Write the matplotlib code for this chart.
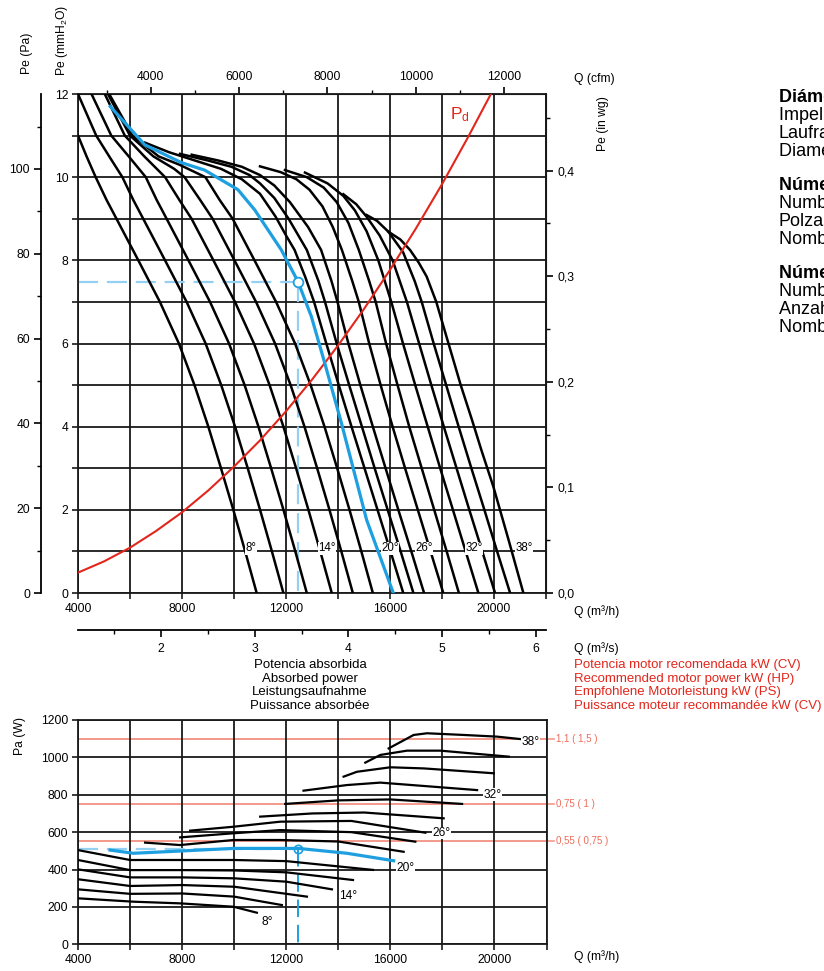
import matplotlib
matplotlib.use('Agg')
import matplotlib.pyplot as plt
from matplotlib.ticker import FixedLocator, FuncFormatter

plt.rcParams['font.family'] = ['Liberation Sans', 'DejaVu Sans']
plt.rcParams['mathtext.fontset'] = 'custom'
plt.rcParams['mathtext.rm'] = 'Liberation Sans'
plt.rcParams['mathtext.it'] = 'Liberation Sans'

# ---------------- data ----------------
angles = [8, 10, 12, 14, 16, 18, 20, 22, 24, 26, 28, 30, 32, 34, 36, 38]
highlight_angle = 20

# static pressure curves: Q (m3/h) and Pe (mmH2O)
pe_q = {
    8:  [4000, 4330, 4680, 5100, 5480, 6320, 7150, 7880, 8480, 9013, 9500, 9974, 10430, 10872],
    10: [4000, 4700, 5200, 5708, 6128, 6508, 7348, 8178, 8908, 9508, 10041, 10528, 11002, 11458, 11900],
    12: [4520, 5280, 5950, 6608, 7028, 7408, 8248, 9078, 9808, 10408, 10941, 11428, 11902, 12358, 12800],
    14: [5030, 5800, 6550, 7350, 7900, 8368, 9208, 10038, 10768, 11368, 11901, 12388, 12862, 13318, 13760],
    16: [5150, 6000, 6900, 7700, 8100, 8700, 9178, 10018, 10848, 11578, 12178, 12711, 13198, 13672, 14128, 14570],
    18: [5200, 6100, 7100, 7900, 8900, 9450, 9948, 10788, 11618, 12348, 12948, 13481, 13968, 14442, 14898, 15340],
    20: [5240, 6565, 7975, 8870, 10150, 10800, 11820, 12460, 12975, 13490, 14130, 15100, 16127],
    22: [6577, 7500, 8500, 9500, 10300, 11000, 11600, 12000, 12330, 12740, 13080, 13550, 14030, 14520, 15020, 15520, 16020, 16510],
    24: [7923, 9000, 9900, 10600, 11000, 11550, 12100, 12800, 13250, 13500, 13950, 14430, 14920, 15410, 15910, 16410, 16900],
    26: [8372, 9400, 10300, 11000, 11550, 12150, 12850, 13350, 13750, 13980, 14400, 14860, 15340, 15830, 16320, 16820, 17310],
    28: [11000, 11800, 12400, 12900, 13400, 13800, 14150, 14550, 14800, 15200, 15640, 16100, 16580, 17070, 17560, 18050],
    30: [11960, 12800, 13450, 13950, 14400, 14800, 15200, 15450, 15850, 16290, 16740, 17220, 17700, 18180, 18650],
    32: [12730, 13600, 14205, 14650, 15100, 15550, 16050, 16500, 16970, 17450, 17930, 18420, 18910, 19400],
    34: [14205, 14700, 15100, 15600, 16100, 16650, 17120, 17590, 18070, 18560, 19050, 19550, 20040],
    36: [15100, 15500, 15935, 16500, 16950, 17220, 17680, 18160, 18640, 19130, 19630, 20120, 20620],
    38: [15935, 16400, 16770, 17100, 17410, 17780, 18250, 18720, 19150, 19513, 19974, 20550, 21130],
}
pe_p = {
    8:  [11.0, 10.5, 10.0, 9.45, 9.0, 8.0, 7.0, 6.0, 5.0, 4.0, 3.0, 2.0, 1.0, 0.0],
    10: [12.0, 11.0, 10.5, 10.0, 9.45, 9.0, 8.0, 7.0, 6.0, 5.0, 4.0, 3.0, 2.0, 1.0, 0.0],
    12: [12.0, 11.0, 10.5, 10.0, 9.45, 9.0, 8.0, 7.0, 6.0, 5.0, 4.0, 3.0, 2.0, 1.0, 0.0],
    14: [12.0, 11.0, 10.5, 10.0, 9.45, 9.0, 8.0, 7.0, 6.0, 5.0, 4.0, 3.0, 2.0, 1.0, 0.0],
    16: [12.0, 11.0, 10.5, 10.2, 10.0, 9.45, 9.0, 8.0, 7.0, 6.0, 5.0, 4.0, 3.0, 2.0, 1.0, 0.0],
    18: [12.0, 11.0, 10.5, 10.3, 10.0, 9.45, 9.0, 8.0, 7.0, 6.0, 5.0, 4.0, 3.0, 2.0, 1.0, 0.0],
    20: [11.7, 10.78, 10.35, 10.17, 9.7, 9.21, 8.25, 7.49, 6.65, 5.53, 4.09, 1.76, 0.0],
    22: [10.83, 10.6, 10.4, 10.2, 9.95, 9.6, 9.05, 8.6, 8.25, 7.6, 7.0, 6.0, 5.0, 4.0, 3.0, 2.0, 1.0, 0.0],
    24: [10.56, 10.4, 10.25, 10.05, 9.85, 9.5, 9.0, 8.25, 7.5, 7.0, 6.0, 5.0, 4.0, 3.0, 2.0, 1.0, 0.0],
    26: [10.54, 10.4, 10.25, 10.05, 9.8, 9.4, 8.8, 8.25, 7.5, 7.0, 6.0, 5.0, 4.0, 3.0, 2.0, 1.0, 0.0],
    28: [10.26, 10.12, 9.95, 9.7, 9.3, 8.8, 8.25, 7.5, 7.0, 6.0, 5.0, 4.0, 3.0, 2.0, 1.0, 0.0],
    30: [10.17, 10.0, 9.75, 9.4, 8.9, 8.25, 7.5, 7.0, 6.0, 5.0, 4.0, 3.0, 2.0, 1.0, 0.0],
    32: [10.11, 9.85, 9.55, 9.2, 8.7, 8.0, 7.0, 6.0, 5.0, 4.0, 3.0, 2.0, 1.0, 0.0],
    34: [9.59, 9.35, 9.05, 8.6, 8.0, 7.0, 6.0, 5.0, 4.0, 3.0, 2.0, 1.0, 0.0],
    36: [9.09, 8.95, 8.69, 8.2, 7.5, 7.0, 6.0, 5.0, 4.0, 3.0, 2.0, 1.0, 0.0],
    38: [8.69, 8.5, 8.25, 7.95, 7.61, 7.0, 6.0, 5.0, 4.17, 3.44, 2.56, 1.3, 0.0],
}

# dynamic pressure Pd
pd_q = [4000, 5000, 6000, 7000, 8000, 9000, 10000, 11000, 12000, 13000,
        14000, 15000, 16000, 17000, 18000, 19000, 19880]
pd_p = [0.49, 0.76, 1.09, 1.49, 1.94, 2.46, 3.04, 3.67, 4.37, 5.13,
        5.95, 6.83, 7.77, 8.77, 9.83, 10.96, 12.0]

# absorbed power curves: Q (m3/h) and Pa (W)
pa_q = {
    8:  [4000, 6128, 7923, 9974, 10872],
    10: [4000, 6000, 8000, 10000, 11833],
    12: [4000, 6000, 8000, 10000, 12796],
    14: [4000, 6000, 8000, 10000, 12000, 13756],
    16: [4000, 6000, 8000, 10000, 12000, 14565],
    18: [4000, 6000, 8000, 10000, 12000, 15335],
    20: [5230, 6128, 7923, 9974, 12474, 14333, 16128],
    22: [6577, 7923, 9974, 11769, 14000, 16512],
    24: [7923, 9974, 11769, 14500, 16960],
    26: [8308, 9974, 11769, 14500, 17346],
    28: [11000, 13000, 15000, 18050],
    30: [11962, 14000, 16000, 18757],
    32: [12665, 14333, 15615, 19333],
    34: [14205, 14718, 16000, 17282, 19974],
    36: [15038, 15615, 16640, 17923, 20551],
    38: [15935, 16897, 17410, 18820, 20100, 21064],
}
pa_w = {
    8:  [246, 228, 219, 201, 169],
    10: [294, 270, 272, 255, 210],
    12: [348, 312, 317, 308, 255],
    14: [401, 358, 358, 353, 335, 294],
    16: [451, 397, 397, 395, 385, 344],
    18: [504, 451, 451, 451, 445, 398],
    20: [504, 487, 499, 513, 513, 487, 447],
    22: [544, 531, 558, 558, 550, 495],
    24: [572, 594, 611, 600, 549],
    26: [608, 629, 656, 660, 597],
    28: [683, 700, 705, 674],
    30: [751, 770, 775, 751],
    32: [822, 852, 865, 825],
    34: [897, 923, 947, 941, 915],
    36: [972, 1013, 1036, 1036, 1004],
    38: [1048, 1120, 1129, 1120, 1111, 1097],
}

# operating point
op_q = 12470
op_pe = 7.48
op_pa = 512

# recommended motor power lines
motor_w = [1100, 750, 550]
motor_labels = ['1,1 ( 1,5 )', '0,75 ( 1 )', '0,55 ( 0,75 )']

# angle tag positions (Q, value)
pe_tag_pos = {8: (10650, 1.08), 14: (13580, 1.08), 20: (16000, 1.08),
              26: (17310, 1.08), 32: (19230, 1.08), 38: (21150, 1.08)}
pa_tag_pos = {8: (11270, 119), 14: (14385, 259), 20: (16577, 409),
              26: (17962, 596), 32: (19923, 800), 38: (21385, 1083)}

text_right_pa = ['Potencia motor recomendada kW (CV)', 'Recommended motor power kW (HP)',
                 'Empfohlene Motorleistung kW (PS)', 'Puissance moteur recommandée kW (CV)']
text_center_pa = ['Potencia absorbida', 'Absorbed power', 'Leistungsaufnahme',
                  'Puissance absorbée']
info_blocks = [
    ['Diámetro turbina', 'Impeller diameter', 'Laufraddurchmesser', 'Diamètre turbine'],
    ['Número de polos', 'Number of poles', 'Polzahl', 'Nombre de pôles'],
    ['Número de álabes', 'Number of blades', 'Anzahl der Schaufeln', 'Nombre de pales'],
]

# ---------------- styling ----------------
W, H = 824, 971
fig = plt.figure(figsize=(W / 100, H / 100), dpi=100)
BLUE = '#1e9fe0'
LBLUE = '#93d0f2'
RED = '#e2261c'
SALMON = '#f39a8a'
GRID = '#1a1a1a'
FS = 8.7


def px_rect(l, t, r, b):
    return [l / W, 1 - b / H, (r - l) / W, (b - t) / H]


def comma(v, pos=None):
    return ('%.1f' % v).replace('.', ',')


# ---------------- main (pressure) chart ----------------
ax = fig.add_axes(px_rect(78, 94, 546, 593))
ax.set_xlim(4000, 22000)
ax.set_ylim(0, 12)
ax.xaxis.set_major_locator(FixedLocator(list(range(4000, 22001, 2000))))
ax.xaxis.set_major_formatter(FuncFormatter(lambda v, p: '%d' % v if (v % 4000 == 0 and v <= 20000) else ''))
ax.yaxis.set_major_locator(FixedLocator(list(range(0, 13))))
ax.yaxis.set_major_formatter(FuncFormatter(lambda v, p: '%d' % v if v % 2 == 0 else ''))
ax.tick_params(direction='out', length=4, width=1.2, labelsize=FS, pad=3, color=GRID)
ax.grid(True, color=GRID, lw=1.3, zorder=0)
for s in ax.spines.values():
    s.set_color(GRID)
    s.set_linewidth(1.3)

for a in angles:
    hl = a == highlight_angle
    ax.plot(pe_q[a], pe_p[a], color=BLUE if hl else 'black', lw=2.3 if hl else 1.8,
            zorder=4 if hl else 3, solid_joinstyle='round')

ax.plot(pd_q, pd_p, color=RED, lw=1.5, zorder=3)
ax.text(18700, 11.5, r'P$_\mathrm{d}$', color=RED, fontsize=12.5, ha='center', va='center')

ax.plot([4000, op_q], [op_pe, op_pe], color=LBLUE, lw=1.6, dashes=(9, 4), zorder=2)
ax.plot([op_q, op_q], [op_pe, 0], color=LBLUE, lw=1.6, dashes=(9, 4), zorder=2)
ax.plot([op_q], [op_pe], marker='o', ms=7, mfc='white', mec=BLUE, mew=1.3, zorder=5)

for a, (x, y) in pe_tag_pos.items():
    ax.text(x, y, '%d°' % a, fontsize=8.3, ha='center', va='center', zorder=6,
            bbox=dict(facecolor='white', edgecolor='none', pad=0.3))

# Pa secondary axis on the far left
sec_pa = ax.secondary_yaxis(-37 / 468, functions=(lambda v: v * 9.80665, lambda v: v / 9.80665))
sec_pa.yaxis.set_major_locator(FixedLocator([0, 20, 40, 60, 80, 100]))
sec_pa.yaxis.set_minor_locator(FixedLocator([10, 30, 50, 70, 90, 110]))
sec_pa.tick_params(which='major', direction='out', length=5, width=1.2, labelsize=FS, pad=3)
sec_pa.tick_params(which='minor', direction='out', length=3, width=1.0)
sec_pa.spines['left'].set_linewidth(1.3)

# in wg on the right
sec_in = ax.secondary_yaxis('right', functions=(lambda v: v / 25.4, lambda v: v * 25.4))
sec_in.yaxis.set_major_locator(FixedLocator([0.0, 0.1, 0.2, 0.3, 0.4]))
sec_in.yaxis.set_minor_locator(FixedLocator([0.05, 0.15, 0.25, 0.35, 0.45]))
sec_in.yaxis.set_major_formatter(FuncFormatter(comma))
sec_in.tick_params(which='major', direction='out', length=5, width=1.2, labelsize=FS, pad=3)
sec_in.tick_params(which='minor', direction='out', length=3, width=1.0)

# cfm on top
sec_cfm = ax.secondary_xaxis('top', functions=(lambda v: v / 1.699, lambda v: v * 1.699))
sec_cfm.xaxis.set_major_locator(FixedLocator([4000, 6000, 8000, 10000, 12000]))
sec_cfm.xaxis.set_minor_locator(FixedLocator([3000, 5000, 7000, 9000, 11000]))
sec_cfm.tick_params(which='major', direction='out', length=5, width=1.2, labelsize=FS, pad=3)
sec_cfm.tick_params(which='minor', direction='out', length=3, width=1.0)

# m3/s below
sec_ms = ax.secondary_xaxis(-37 / 499, functions=(lambda v: v / 3600, lambda v: v * 3600))
sec_ms.xaxis.set_major_locator(FixedLocator([2, 3, 4, 5, 6]))
sec_ms.xaxis.set_minor_locator(FixedLocator([1.5, 2.5, 3.5, 4.5, 5.5]))
sec_ms.xaxis.set_major_formatter(FuncFormatter(lambda v, p: '%d' % v))
sec_ms.tick_params(which='major', direction='out', length=5, width=1.2, labelsize=FS, pad=4)
sec_ms.tick_params(which='minor', direction='out', length=3, width=1.0)
sec_ms.spines['bottom'].set_linewidth(1.3)

fig.text(27 / W, 1 - 53 / H, 'Pe (Pa)', rotation=90, fontsize=FS, ha='center', va='center')
fig.text(62 / W, 1 - 40 / H, r'Pe (mmH$_2$O)', rotation=90, fontsize=FS, ha='center', va='center')
fig.text(603 / W, 1 - 124 / H, 'Pe (in wg)', rotation=90, fontsize=FS, ha='center', va='center')
fig.text(574 / W, 1 - 79 / H, 'Q (cfm)', fontsize=FS, ha='left', va='center')
fig.text(574 / W, 1 - 612 / H, 'Q (m³/h)', fontsize=FS, ha='left', va='center')
fig.text(574 / W, 1 - 649 / H, 'Q (m³/s)', fontsize=FS, ha='left', va='center')

# ---------------- power chart ----------------
ax2 = fig.add_axes(px_rect(78, 720, 546.5, 944.3))
ax2.set_xlim(4000, 22000)
ax2.set_ylim(0, 1200)
ax2.xaxis.set_major_locator(FixedLocator(list(range(4000, 22001, 2000))))
ax2.xaxis.set_major_formatter(FuncFormatter(lambda v, p: '%d' % v if (v % 4000 == 0 and v <= 20000) else ''))
ax2.yaxis.set_major_locator(FixedLocator(list(range(0, 1201, 200))))
ax2.tick_params(direction='out', length=4, width=1.2, labelsize=FS, pad=3, color=GRID)
ax2.grid(True, color=GRID, lw=1.3, zorder=0)
for s in ax2.spines.values():
    s.set_color(GRID)
    s.set_linewidth(1.3)

for wv, lab in zip(motor_w, motor_labels):
    ax2.axhline(wv, color=SALMON, lw=1.4, zorder=1)
    ax2.plot([1.0, 1.015], [wv, wv], color=SALMON, lw=1.2,
             transform=ax2.get_yaxis_transform(), clip_on=False)
    ax2.text(1.02, wv, lab, color='#ee6a58', fontsize=7, ha='left', va='center',
             transform=ax2.get_yaxis_transform())

for a in angles:
    hl = a == highlight_angle
    ax2.plot(pa_q[a], pa_w[a], color=BLUE if hl else 'black', lw=2.3 if hl else 1.6,
             zorder=4 if hl else 3, solid_joinstyle='round')

ax2.plot([4000, op_q], [op_pa, op_pa], color=LBLUE, lw=1.6, dashes=(9, 4), zorder=2)
ax2.plot([op_q, op_q], [op_pa, 0], color=BLUE, lw=1.4, dashes=(9, 4), zorder=2)
ax2.plot([op_q], [op_pa], marker='o', ms=6, mfc='none', mec=BLUE, mew=1.2, zorder=5)

for a, (x, y) in pa_tag_pos.items():
    ax2.text(x, y, '%d°' % a, fontsize=8.6, ha='center', va='center', zorder=6,
             bbox=dict(facecolor='white', edgecolor='none', pad=0.3))

fig.text(20 / W, 1 - 736 / H, 'Pa (W)', rotation=90, fontsize=FS, ha='center', va='center')
fig.text(574 / W, 1 - 957 / H, 'Q (m³/h)', fontsize=FS, ha='left', va='center')

for i, t in enumerate(text_center_pa):
    fig.text(310 / W, 1 - (665 + 13.7 * i) / H, t, fontsize=9.5, ha='center', va='center')
for i, t in enumerate(text_right_pa):
    fig.text(574 / W, 1 - (665 + 13.7 * i) / H, t, fontsize=9.5, ha='left', va='center', color=RED)

for g, block in enumerate(info_blocks):
    for i, t in enumerate(block):
        fig.text(779 / W, 1 - (97 + 88 * g + 18.3 * i) / H, t, fontsize=13,
                 ha='left', va='center', fontweight='bold' if i == 0 else 'normal')

fig.savefig('out.png', dpi=100)
